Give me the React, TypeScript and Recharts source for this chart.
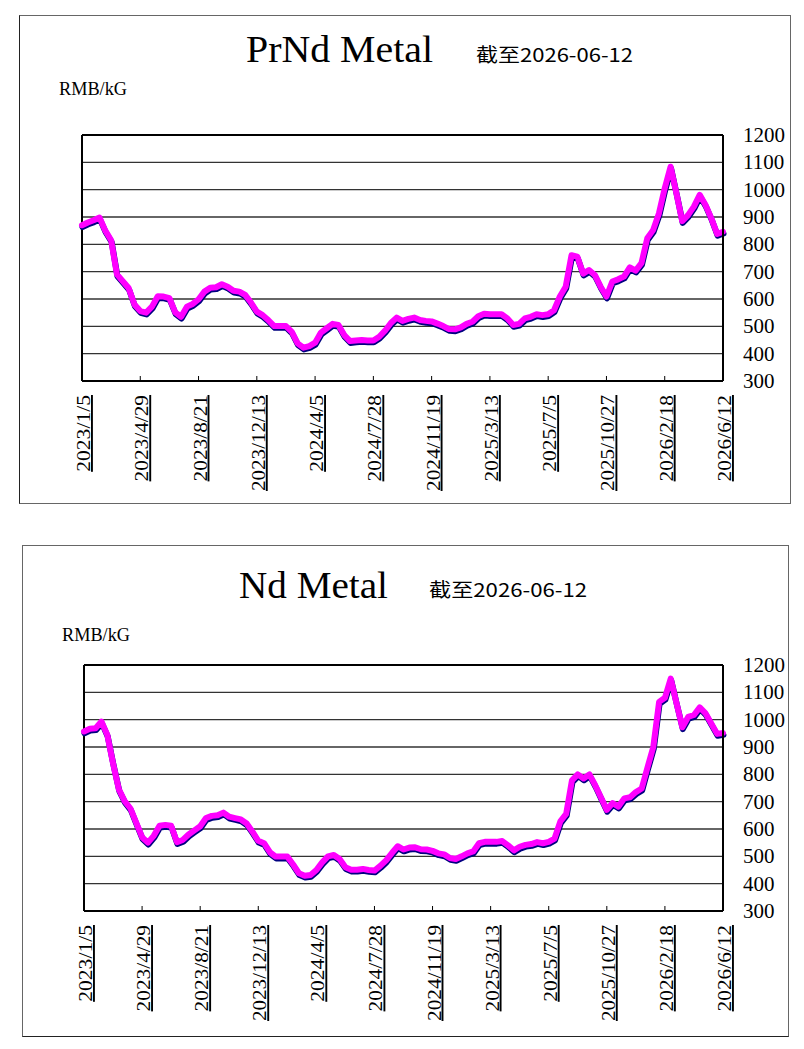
import React from 'react';
import { LineChart, Line, XAxis, YAxis, CartesianGrid, ReferenceLine } from 'recharts';

// tick labels on the x axis (every 10th sample)
const dateLabels = [
  '2023/1/5', '2023/4/29', '2023/8/21', '2023/12/13', '2024/4/5', '2024/7/28',
  '2024/11/19', '2025/3/13', '2025/7/5', '2025/10/27', '2026/2/18', '2026/6/12',
];
const yTicks = [300, 400, 500, 600, 700, 800, 900, 1000, 1100, 1200];

// PrNd metal price, RMB/kg (111 samples, 2023/1/5 .. 2026/6/12)
const prndValues = [
  870, 880, 888, 898, 850, 815, 690, 665, 640, 580,
  556, 550, 572, 610, 609, 603, 551, 535, 572, 582,
  599, 627, 641, 643, 654, 645, 630, 627, 615, 587,
  554, 541, 522, 501, 501, 501, 480, 438, 422, 428,
  440, 477, 493, 509, 505, 468, 446, 448, 450, 448,
  448, 462, 484, 512, 532, 520, 527, 532, 523, 520,
  518, 510, 501, 490, 489, 496, 509, 517, 537, 546,
  544, 544, 544, 529, 505, 509, 529, 535, 544, 541,
  544, 559, 609, 645, 760, 755, 693, 706, 688, 645,
  609, 664, 672, 682, 716, 704, 731, 822, 852, 913,
  1005, 1084, 987, 885, 907, 938, 981, 944, 895, 838,
  846,
];

// Nd metal price, RMB/kg
const ndValues = [
  957, 967, 969, 993, 945, 840, 745, 702, 675, 622,
  570, 550, 575, 612, 615, 612, 552, 560, 580, 595,
  610, 640, 648, 650, 660, 645, 640, 635, 620, 590,
  557, 548, 515, 499, 499, 499, 470, 438, 429, 432,
  450, 478, 500, 505, 490, 460, 451, 451, 454, 450,
  448, 465, 485, 512, 537, 525, 532, 533, 526, 525,
  520, 511, 507, 494, 490, 500, 511, 518, 548, 553,
  553, 553, 556, 540, 522, 535, 542, 545, 552, 548,
  553, 565, 628, 655, 778, 800, 785, 800, 760, 715,
  670, 695, 682, 712, 716, 735, 748, 825, 900, 1065,
  1080, 1150, 1060, 972, 1010, 1017, 1045, 1023, 985, 948,
  951,
];

const STEP = 10;
const xTicks = dateLabels.map((_, k) => k * STEP);

const toData = (vals: number[]) => vals.map((v, i) => ({ i, v }));

const XTick = (props: any) => {
  const { x, y, payload } = props;
  const label = dateLabels[Math.round(payload.value / STEP)] || '';
  return (
    <g>
      <line x1={x} y1={y} x2={x} y2={y - 5} stroke="#000" strokeWidth={1} />
      <text
        transform={`translate(${x + 8},${y + 14}) rotate(-90)`}
        textAnchor="end"
        fontFamily="'Liberation Serif', serif"
        fontSize={19}
        fill="#000"
        textDecoration="underline"
        textLength={label.length * 9.6}
        lengthAdjust="spacingAndGlyphs"
      >
        {label}
      </text>
    </g>
  );
};

const YTick = (props: any) => {
  const { x, y, payload } = props;
  return (
    <text
      x={x + 20}
      y={y}
      dy={7}
      textAnchor="start"
      fontFamily="'Liberation Serif', serif"
      fontSize={21}
      fill="#000"
    >
      {payload.value}
    </text>
  );
};

type PanelProps = { values: number[]; top: number; height: number; left: number };

const Panel = ({ values, top, height, left }: PanelProps) => (
  <div style={{ position: 'absolute', left: -8, top: top - 8 }}>
    <LineChart
      width={804}
      height={height}
      data={toData(values)}
      margin={{ top: 120, right: 21, bottom: height - 120 - 246 - 110, left }}
    >
      <CartesianGrid vertical={false} stroke="#333" strokeWidth={1.4} />
      <XAxis
        dataKey="i"
        type="number"
        domain={[0, 110]}
        ticks={xTicks}
        interval={0}
        height={110}
        tickSize={0}
        tickMargin={0}
        tick={<XTick />}
        axisLine={{ stroke: '#000', strokeWidth: 2 }}
        tickLine={false}
      />
      <YAxis
        orientation="right"
        domain={[300, 1200]}
        ticks={yTicks}
        interval={0}
        width={60}
        tickSize={0}
        tickMargin={0}
        tick={<YTick />}
        axisLine={{ stroke: '#000', strokeWidth: 2 }}
        tickLine={false}
      />
      <ReferenceLine x={0} stroke="#000" strokeWidth={2} />
      <ReferenceLine y={1200} stroke="#000" strokeWidth={2} />
      <Line
        className="navy-shadow"
        dataKey="v"
        stroke="#000080"
        strokeWidth={6}
        dot={false}
        type="linear"
        strokeLinejoin="round"
        strokeLinecap="round"
        isAnimationActive={false}
      />
      <Line
        dataKey="v"
        stroke="#FF00FF"
        strokeWidth={6}
        dot={false}
        type="linear"
        strokeLinejoin="round"
        strokeLinecap="round"
        isAnimationActive={false}
      />
    </LineChart>
  </div>
);

const serif = "'Liberation Serif', serif";
const cjk = "'Noto Sans CJK SC', sans-serif";

export default function App() {
  return (
    <div style={{ position: 'relative', width: 796, height: 1041 }}>
      <style>{`.navy-shadow .recharts-line-curve { transform: translate(0.5px, 1.8px); }`}</style>
      <div style={{ position: 'absolute', left: 19 - 8, top: 15 - 8, width: 770, height: 487, border: '1px solid #666', borderLeftColor: '#222', boxSizing: 'content-box' }} />
      <div style={{ position: 'absolute', left: 22 - 8, top: 545 - 8, width: 765, height: 490, border: '1px solid #666', borderBottomColor: '#222', boxSizing: 'content-box' }} />
      <Panel values={prndValues} top={15} height={488} left={82} />
      <Panel values={ndValues} top={545} height={491} left={84} />
      <svg width={804} height={1049} style={{ position: 'absolute', left: -8, top: -8, pointerEvents: 'none' }}>
        <text x={246} y={62} fontFamily={serif} fontSize={38} textLength={187} lengthAdjust="spacingAndGlyphs" fill="#000">PrNd Metal</text>
        <text x={476} y={62} fontFamily={cjk} fontSize={19} textLength={157} lengthAdjust="spacingAndGlyphs" fill="#000">截至2026-06-12</text>
        <text x={59} y={95} fontFamily={serif} fontSize={19} textLength={68} lengthAdjust="spacingAndGlyphs" fill="#000">RMB/kG</text>
        <text x={239} y={598} fontFamily={serif} fontSize={38} textLength={149} lengthAdjust="spacingAndGlyphs" fill="#000">Nd Metal</text>
        <text x={429} y={597} fontFamily={cjk} fontSize={19} textLength={158} lengthAdjust="spacingAndGlyphs" fill="#000">截至2026-06-12</text>
        <text x={62} y={641} fontFamily={serif} fontSize={19} textLength={68} lengthAdjust="spacingAndGlyphs" fill="#000">RMB/kG</text>
      </svg>
    </div>
  );
}
